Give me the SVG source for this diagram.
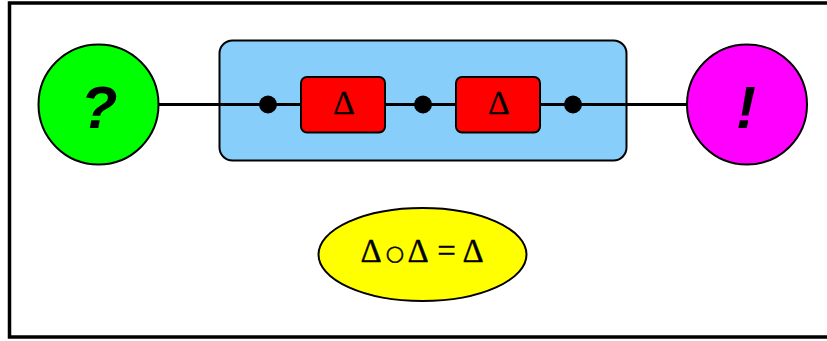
<svg xmlns="http://www.w3.org/2000/svg" width="827" height="341" viewBox="0 0 827 341">
  <style>
    .edge { stroke: #000; stroke-width: 3; fill: none; }
    .dot { fill: #000; }
    .op { fill: #ff0000; stroke: #000; stroke-width: 2; }
    .sym { font-family: "Liberation Serif", "DejaVu Serif", serif; font-size: 34px; text-anchor: middle; fill: #000; stroke: #000; stroke-width: 0.35; }
    .eq { font-family: "Liberation Serif", "DejaVu Serif", serif; font-size: 33px; text-anchor: middle; fill: #000; stroke: #000; stroke-width: 0.35; }
    .ring { font-family: "DejaVu Sans", sans-serif; font-size: 21px; stroke-width: 0.5; }
    .big { font-family: "Liberation Sans", Arial, sans-serif; font-size: 60px; font-weight: bold; font-style: italic; text-anchor: middle; fill: #000; }
  </style>
  <rect width="827" height="341" fill="#fff"/>
  <rect x="9.5" y="3" width="830" height="334" fill="none" stroke="#000" stroke-width="3.5"/>

  <g id="group">
    <rect x="219.5" y="40.5" width="407" height="120" rx="13" fill="#87cefa" stroke="#000" stroke-width="2"/>
  </g>

  <g id="connectors">
    <line class="edge" x1="159" y1="104.5" x2="687" y2="104.5"/>
    <circle class="dot" cx="268" cy="104.5" r="9"/>
    <circle class="dot" cx="423" cy="104.5" r="9"/>
    <circle class="dot" cx="573" cy="104.5" r="9"/>
  </g>

  <g id="input">
    <circle cx="98.5" cy="104.5" r="60" fill="#00ff00" stroke="#000" stroke-width="2"/>
    <text class="big" x="99" y="128">?</text>
  </g>

  <g id="delta1">
    <rect class="op" x="301" y="77" width="84" height="55.5" rx="6"/>
    <text class="sym" x="344" y="113.5">Δ</text>
  </g>

  <g id="delta2">
    <rect class="op" x="456" y="77" width="84" height="55.5" rx="6"/>
    <text class="sym" x="499" y="113.5">Δ</text>
  </g>

  <g id="output">
    <circle cx="747" cy="104.5" r="60" fill="#ff00ff" stroke="#000" stroke-width="2"/>
    <text class="big" x="746" y="128">!</text>
  </g>

  <g id="law">
    <ellipse cx="422.5" cy="254.5" rx="104" ry="46.5" fill="#ffff00" stroke="#000" stroke-width="2"/>
    <text class="eq" y="262"><tspan x="371">Δ</tspan><tspan class="ring" x="395" y="259.5">○</tspan><tspan x="418" y="262">Δ</tspan><tspan x="446.5">=</tspan><tspan x="473">Δ</tspan></text>
  </g>
</svg>
